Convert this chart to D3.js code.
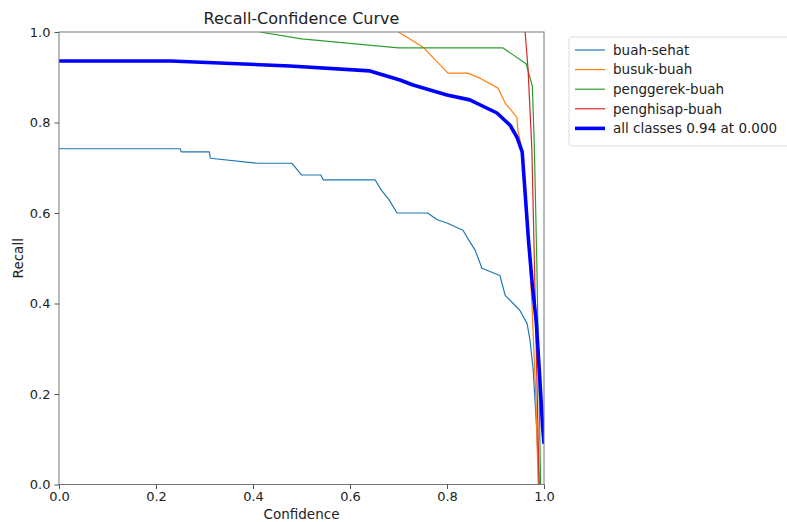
<!DOCTYPE html>
<html>
<head>
<meta charset="utf-8">
<script src="https://cdn.jsdelivr.net/npm/d3@7"></script>
<style>
  body { margin: 0; background: #fff; }
  svg { display: block; font-family: "DejaVu Sans", sans-serif; }
  .tick text { font-size: 13px; fill: #222; }
</style>
</head>
<body>
<svg width="787" height="522"></svg>
<script>
// curves, [confidence, recall]
const buahSehat = [
  [0, 0.742], [0.25, 0.742], [0.252, 0.735], [0.31, 0.735], [0.312, 0.721],
  [0.41, 0.710], [0.48, 0.710], [0.50, 0.684], [0.54, 0.684], [0.545, 0.673],
  [0.652, 0.673], [0.665, 0.65], [0.68, 0.63], [0.697, 0.60], [0.76, 0.60],
  [0.78, 0.585], [0.80, 0.578], [0.833, 0.562], [0.845, 0.54], [0.858, 0.518],
  [0.872, 0.478], [0.909, 0.462], [0.92, 0.418], [0.95, 0.385], [0.965, 0.356],
  [0.971, 0.32], [0.978, 0.25], [0.985, 0.12], [0.99, 0], [1, 0]
];
const busukBuah = [
  [0.70, 1.0], [0.75, 0.967], [0.802, 0.909], [0.843, 0.909], [0.868, 0.898],
  [0.905, 0.876], [0.92, 0.843], [0.944, 0.812], [0.946, 0.783], [0.955, 0.74],
  [0.965, 0.6], [0.975, 0.4], [0.983, 0.2], [0.988, 0], [1, 0]
];
const penggerekBuah = [
  [0.414, 1.0], [0.5, 0.985], [0.6, 0.975], [0.70, 0.965], [0.915, 0.965],
  [0.963, 0.93], [0.971, 0.90], [0.976, 0.88], [0.98, 0.75], [0.985, 0.5],
  [0.99, 0.2], [0.993, 0], [1, 0]
];
const penghisapBuah = [
  [0.961, 1.0], [0.967, 0.92], [0.975, 0.74], [0.98, 0.5], [0.985, 0.25],
  [0.99, 0], [1, 0]
];
const allClasses = [
  [0, 0.936], [0.23, 0.936], [0.476, 0.925], [0.641, 0.914], [0.703, 0.894],
  [0.73, 0.883], [0.80, 0.861], [0.847, 0.85], [0.903, 0.821], [0.93, 0.794],
  [0.944, 0.768], [0.955, 0.735], [0.962, 0.63], [0.968, 0.54], [0.976, 0.44],
  [0.984, 0.36], [0.991, 0.24], [0.997, 0.13], [1, 0.09]
];

const seriesNames = ["buah-sehat", "busuk-buah", "penggerek-buah", "penghisap-buah", "all classes 0.94 at 0.000"];
const seriesData = [buahSehat, busukBuah, penggerekBuah, penghisapBuah, allClasses];
const seriesColors = ["#1f77b4", "#ff7f0e", "#2ca02c", "#d62728", "#0000ff"];
const seriesWidths = [1.2, 1.2, 1.2, 1.2, 3.6];
const ticks = [0, 0.2, 0.4, 0.6, 0.8, 1.0];

const svg = d3.select("svg");
const plotL = 59, plotR = 544, plotT = 32, plotB = 484.5;

const x = d3.scaleLinear().domain([0, 1]).range([plotL, plotR]);
const y = d3.scaleLinear().domain([0, 1]).range([plotB, plotT]);

svg.append("clipPath").attr("id", "plot")
  .append("rect")
  .attr("x", plotL).attr("y", plotT)
  .attr("width", plotR - plotL).attr("height", plotB - plotT);

const line = d3.line().x(d => x(d[0])).y(d => y(d[1]));

svg.append("g")
  .attr("clip-path", "url(#plot)")
  .selectAll("path")
  .data(seriesData)
  .enter()
  .append("path")
  .attr("d", line)
  .attr("fill", "none")
  .attr("stroke", (d, i) => seriesColors[i])
  .attr("stroke-width", (d, i) => seriesWidths[i])
  .attr("stroke-linejoin", "round");

// frame
svg.append("rect")
  .attr("x", plotL).attr("y", plotT)
  .attr("width", plotR - plotL).attr("height", plotB - plotT)
  .attr("fill", "none")
  .attr("stroke", "#777")
  .attr("stroke-width", 1);

const fmt = d3.format(".1f");
const xAxis = svg.append("g")
  .attr("transform", `translate(0, ${plotB})`)
  .call(d3.axisBottom(x).tickValues(ticks).tickFormat(fmt).tickSize(4.5).tickPadding(3).tickSizeOuter(0));
const yAxis = svg.append("g")
  .attr("transform", `translate(${plotL}, 0)`)
  .call(d3.axisLeft(y).tickValues(ticks).tickFormat(fmt).tickSize(4.5).tickPadding(4).tickSizeOuter(0));
[xAxis, yAxis].forEach(a => {
  a.select(".domain").remove();
  a.selectAll(".tick line").attr("stroke", "#555");
  a.selectAll("text").attr("font-family", "DejaVu Sans");
});

// title and axis labels
svg.append("text")
  .attr("x", (plotL + plotR) / 2).attr("y", 24)
  .attr("text-anchor", "middle")
  .attr("font-size", 16)
  .attr("fill", "#222")
  .text("Recall-Confidence Curve");

svg.append("text")
  .attr("x", (plotL + plotR) / 2).attr("y", 519)
  .attr("text-anchor", "middle")
  .attr("font-size", 13.5)
  .attr("fill", "#222")
  .text("Confidence");

svg.append("text")
  .attr("transform", `translate(23, ${(plotT + plotB) / 2}) rotate(-90)`)
  .attr("text-anchor", "middle")
  .attr("font-size", 13.5)
  .attr("fill", "#222")
  .text("Recall");

// legend
const legend = svg.append("g").attr("transform", "translate(569, 37)");
legend.append("rect")
  .attr("width", 240).attr("height", 109)
  .attr("rx", 3)
  .attr("fill", "#fff")
  .attr("stroke", "#ddd");

const rows = legend.selectAll("g.row")
  .data(seriesNames)
  .enter()
  .append("g")
  .attr("class", "row")
  .attr("transform", (d, i) => `translate(0, ${13 + i * 19.6})`);
rows.append("line")
  .attr("x1", 6).attr("x2", 36)
  .attr("stroke", (d, i) => seriesColors[i])
  .attr("stroke-width", (d, i) => seriesWidths[i]);
rows.append("text")
  .attr("x", 44).attr("dy", "0.35em")
  .attr("font-size", 13.5)
  .attr("fill", "#222")
  .text(d => d);
</script>
</body>
</html>
